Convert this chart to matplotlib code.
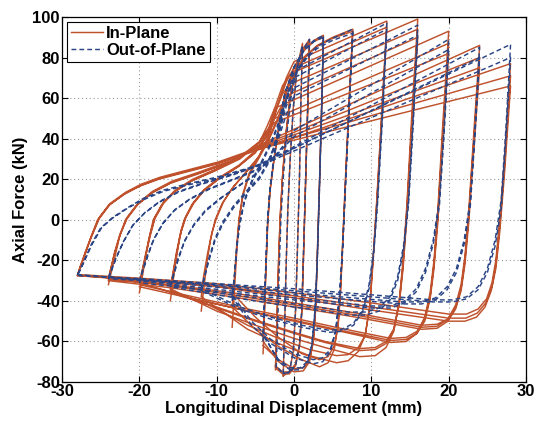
import numpy as np
import matplotlib
matplotlib.use("Agg")
import matplotlib.pyplot as plt

plt.rcParams['font.family'] = ['Liberation Sans', 'DejaVu Sans']
plt.rcParams['axes.unicode_minus'] = False

# In-plane test: (displacement mm, axial force kN), cycles at each amplitude
ip_28 = [(-28.0, -27.5), (-27.6, -23), (-27.0, -17), (-26.3, -9), (-25.4, 0), (-24.0, 7), (-22.0, 12.5),
         (-20.0, 16.5), (-17.5, 20), (-14.0, 23.5), (-10.0, 27.5), (-5.0, 34), (28.0, 77),
         (27.2, 30), (26.6, 0), (26.1, -20), (25.6, -31), (24.9, -39), (23.8, -44), (22.3, -46.5),
         (20.0, -46.5), (10.0, -41), (0.0, -36), (-10.0, -31.5), (-20.0, -28.8), (-28.0, -27.0),
         (-27.6, -22.5), (-27.0, -16), (-26.2, -8), (-25.2, 1), (-23.8, 8), (-21.8, 13.5), (-19.8, 17.5),
         (-17.3, 21), (-13.8, 24.5), (-9.8, 28.5), (-5.0, 35), (28.0, 71),
         (27.2, 26), (26.6, -3), (26.1, -22), (25.6, -33), (24.8, -41), (23.7, -46), (22.2, -48.5),
         (20.0, -48.5), (10.0, -43), (0.0, -37.5), (-10.0, -32.5), (-20.0, -29.5), (-28.0, -27.5),
         (-27.6, -23), (-27.0, -16.5), (-26.2, -8.5), (-25.2, 0.5), (-23.8, 7.5), (-21.8, 13), (-19.8, 17),
         (-17.3, 20.5), (-13.8, 24), (-9.8, 28), (-5.0, 34.5), (28.0, 66),
         (27.2, 22), (26.6, -6), (26.1, -24), (25.5, -35), (24.7, -43), (23.6, -48), (22.1, -50),
         (20.0, -50), (10.0, -44.5), (0.0, -38.5), (-10.0, -33), (-20.0, -30), (-28.0, -27.5)]

ip_24 = [(-24.0, -32), (-23.7, -27), (-23.2, -19), (-22.6, -9), (-21.8, 0), (-20.4, 7), (-18.5, 13), (-16.0, 18),
         (-12.5, 22.5), (-8.5, 28), (-5.0, 36), (24.0, 86),
         (23.2, 40), (22.6, 5), (22.1, -18), (21.6, -32), (20.9, -42), (19.9, -49), (18.5, -52.5), (16.5, -53),
         (8.0, -47), (0.0, -42), (-8.0, -37), (-16.0, -32.5), (-24.0, -29),
         (-23.7, -24), (-23.2, -16), (-22.5, -7), (-21.6, 1), (-20.2, 8), (-18.3, 14), (-15.8, 19), (-12.3, 23.5),
         (-8.3, 29), (-5.0, 35.5), (24.0, 80),
         (23.2, 36), (22.6, 2), (22.1, -20), (21.6, -34), (20.9, -43), (19.9, -49), (18.5, -51.5), (16.5, -52),
         (8.0, -46), (0.0, -41), (-8.0, -36), (-16.0, -32), (-24.0, -29.5),
         (-23.7, -24.5), (-23.2, -16.5), (-22.5, -7.5), (-21.6, 0.5), (-20.2, 7.5), (-18.3, 13.5), (-15.8, 18.5),
         (-12.3, 23), (-8.3, 28.5), (-5.0, 35), (24.0, 75),
         (23.2, 32), (22.6, -1), (22.1, -22), (21.6, -35), (20.9, -44), (19.9, -50), (18.5, -53.5), (16.5, -54),
         (8.0, -48), (0.0, -43), (-8.0, -38), (-16.0, -33.5), (-24.0, -30)]

ip_20 = [(-20.0, -36), (-19.7, -30), (-19.3, -21), (-18.8, -10), (-18.2, 0), (-17.1, 7.5), (-15.6, 13.5),
         (-13.3, 19), (-10.3, 24), (-7.0, 30), (-4.5, 38), (-3.5, 46), (-2.5, 55), (20.0, 93),
         (19.2, 45), (18.6, 5), (18.1, -20), (17.6, -36), (16.9, -48), (15.9, -56), (14.5, -60), (12.5, -60.5),
         (6.0, -55), (0.0, -50), (-6.0, -45), (-13.0, -39), (-20.0, -31),
         (-19.7, -26), (-19.2, -17), (-18.6, -7), (-18.0, 1), (-16.9, 8.5), (-15.4, 14.5), (-13.1, 20),
         (-10.1, 25), (-7.0, 31), (-4.5, 38.5), (-3.5, 44), (-2.5, 50), (20.0, 87),
         (19.2, 40), (18.6, 2), (18.1, -22), (17.6, -38), (16.9, -49), (15.9, -55), (14.5, -58), (12.5, -58.5),
         (6.0, -53.5), (0.0, -48.5), (-6.0, -44), (-13.0, -38), (-20.0, -32),
         (-19.7, -27), (-19.2, -18), (-18.6, -8), (-18.0, 0.5), (-16.9, 8), (-15.4, 14), (-13.1, 19.5),
         (-10.1, 24.5), (-7.0, 30.5), (-4.5, 38), (-3.5, 43), (-2.5, 48), (20.0, 82),
         (19.2, 36), (18.6, -1), (18.1, -24), (17.6, -39), (16.9, -50), (15.9, -56), (14.5, -59), (12.5, -59.5),
         (6.0, -54.5), (0.0, -49.5), (-6.0, -45), (-13.0, -39), (-20.0, -33)]

ip_16 = [(-16.0, -40), (-15.7, -32), (-15.3, -21), (-14.8, -9), (-14.2, 0), (-13.2, 7.5), (-11.8, 14),
         (-9.8, 20), (-7.3, 26), (-5.0, 33), (-3.5, 42), (-2.5, 55), (-1.5, 66), (-0.5, 72), (16.0, 99),
         (15.2, 50), (14.6, 8), (14.1, -20), (13.6, -40), (12.9, -55), (11.9, -63), (10.5, -67), (8.5, -67.5),
         (4.0, -63), (0.0, -58.5), (-5.0, -52), (-10.0, -45), (-16.0, -34),
         (-15.7, -27), (-15.2, -16), (-14.6, -5), (-14.0, 1.5), (-13.0, 8.5), (-11.6, 15), (-9.6, 21),
         (-7.1, 27), (-5.0, 34), (-3.5, 42), (-2.5, 53), (-1.5, 62), (-0.5, 67), (16.0, 94),
         (15.2, 45), (14.6, 5), (14.1, -22), (13.6, -41), (12.9, -54), (11.9, -61), (10.5, -64), (8.5, -64.5),
         (4.0, -60.5), (0.0, -56), (-5.0, -50), (-10.0, -43.5), (-16.0, -35),
         (-15.7, -28), (-15.2, -17), (-14.6, -6), (-14.0, 1), (-13.0, 8), (-11.6, 14.5), (-9.6, 20.5),
         (-7.1, 26.5), (-5.0, 33.5), (-3.5, 41), (-2.5, 50), (-1.5, 57), (-0.5, 62), (16.0, 90),
         (15.2, 42), (14.6, 2), (14.1, -24), (13.6, -42), (12.9, -54), (11.9, -60), (10.5, -63), (8.5, -63.5),
         (4.0, -60), (0.0, -55.5), (-5.0, -49.5), (-10.0, -43), (-16.0, -36)]

ip_12 = [(-12.0, -45), (-11.7, -35), (-11.3, -22), (-10.8, -10), (-10.2, 0), (-9.3, 8), (-8.0, 15.5),
         (-6.3, 23), (-4.5, 31), (-3.2, 42), (-2.2, 56), (-1.0, 70), (0.0, 78), (12.0, 98),
         (11.3, 50), (10.7, 10), (10.2, -20), (9.8, -42), (9.2, -57), (8.3, -65), (7.0, -69.5), (5.5, -70.5),
         (2.0, -67), (-2.0, -61), (-6.0, -54), (-12.0, -38),
         (-11.7, -28), (-11.2, -17), (-10.6, -6), (-10.0, 1), (-9.1, 9), (-7.8, 16.5), (-6.1, 24),
         (-4.5, 31.5), (-3.2, 42), (-2.2, 55), (-1.0, 68), (0.0, 75), (12.0, 95),
         (11.3, 48), (10.7, 8), (10.2, -22), (9.8, -43), (9.2, -57), (8.3, -63), (7.0, -66.5), (5.5, -67),
         (2.0, -64), (-2.0, -58.5), (-6.0, -52), (-12.0, -40)]

ip_8 = [(-8.0, -53), (-7.7, -35), (-7.4, -15), (-7.1, 0), (-6.6, 12), (-5.8, 22), (-4.6, 30), (-3.3, 39),
        (-2.0, 50), (-0.7, 66), (0.3, 75), (1.5, 81), (3.0, 86), (5.0, 90), (7.6, 94),
        (7.2, 65), (6.7, 25), (6.3, -10), (6.0, -35), (5.7, -52), (5.2, -64), (4.4, -70.5), (3.3, -72.5),
        (1.0, -69), (-2.0, -62.5), (-5.0, -54), (-8.0, -43),
        (-7.7, -28), (-7.4, -12), (-7.1, 1), (-6.6, 13), (-5.8, 23), (-4.6, 31), (-3.3, 40), (-2.0, 51),
        (-0.7, 66), (0.3, 74), (1.5, 80.5), (3.0, 85.5), (5.0, 89.5), (7.6, 93),
        (7.2, 63), (6.7, 22), (6.3, -12), (6.0, -37), (5.7, -52), (5.2, -62), (4.4, -67.5), (3.3, -69),
        (1.0, -66), (-2.0, -58), (-5.0, -48), (-8.0, -36)]

ip_4 = [(-4.0, -66), (-3.8, -45), (-3.6, -22), (-3.4, -2), (-3.1, 14), (-2.6, 29), (-2.0, 44), (-1.2, 61),
        (0.0, 75), (1.3, 84), (2.6, 88.5), (3.8, 91),
        (3.6, 60), (3.3, 20), (3.0, -18), (2.8, -42), (2.5, -60), (2.0, -70), (1.2, -74.5), (0.0, -75),
        (-2.0, -70), (-4.0, -60),
        (-3.8, -40), (-3.6, -19), (-3.4, 0), (-3.1, 15), (-2.6, 30), (-2.0, 45), (-1.2, 62), (0.0, 75),
        (1.3, 83.5), (2.6, 88), (3.8, 90),
        (3.6, 58), (3.3, 18), (3.0, -20), (2.8, -44), (2.5, -60), (2.0, -69), (1.2, -73), (0.0, -73.5),
        (-2.0, -69), (-4.0, -62)]

ip_2 = [(-2.4, -74), (-2.2, -50), (-2.0, -22), (-1.8, 0), (-1.5, 20), (-1.1, 40), (-0.5, 60), (0.3, 75),
        (1.1, 84), (2.0, 89),
        (1.8, 60), (1.5, 20), (1.2, -20), (1.0, -45), (0.7, -62), (0.2, -72), (-0.6, -76), (-1.5, -76),
        (-2.4, -73),
        (-2.2, -48), (-2.0, -20), (-1.8, 1), (-1.5, 21), (-1.1, 41), (-0.5, 61), (0.3, 75), (1.1, 83.5),
        (2.0, 88),
        (1.8, 58), (1.5, 18), (1.2, -22), (1.0, -46), (0.7, -62), (0.2, -71), (-0.6, -75), (-1.5, -75),
        (-2.4, -72)]

ip_1 = [(-1.4, -77), (-1.2, -50), (-1.0, -20), (-0.8, 5), (-0.5, 30), (-0.1, 55), (0.4, 75), (1.1, 87),
        (0.9, 60), (0.7, 20), (0.4, -20), (0.2, -45), (-0.1, -65), (-0.6, -75), (-1.4, -77)]

# Out-of-plane test
op_28 = [(-28.0, -27), (-27.6, -24), (-27.0, -19), (-26.2, -12), (-25.0, -4), (-23.5, 1), (-21.5, 6),
         (-19.5, 10.5), (-17.0, 14.5), (-14.0, 17.5), (-10.0, 21), (-5.0, 26.5), (-3.0, 30), (28.0, 86.5),
         (27.4, 45), (26.8, 10), (26.0, -10), (25.0, -24), (23.8, -33), (22.3, -38), (20.5, -39.5),
         (18.0, -39.5), (10.0, -37), (0.0, -34), (-10.0, -31.5), (-20.0, -29), (-28.0, -27.5),
         (-27.6, -24.5), (-27.0, -19.5), (-26.1, -12), (-24.9, -4), (-23.4, 1), (-21.4, 6), (-19.4, 10),
         (-16.9, 14), (-13.9, 17), (-9.9, 20.5), (-5.0, 26), (-3.0, 29), (28.0, 80),
         (27.4, 40), (26.8, 6), (26.0, -13), (25.0, -26), (23.8, -34.5), (22.3, -39), (20.5, -40.5),
         (18.0, -40.5), (10.0, -38), (0.0, -35), (-10.0, -32), (-20.0, -29.5), (-28.0, -27)]

op_24 = [(-24.0, -29), (-23.6, -25), (-23.0, -19), (-22.1, -11), (-20.9, -3), (-19.4, 3), (-17.5, 8.5),
         (-15.0, 13.5), (-12.0, 17.5), (-8.0, 22), (-4.0, 27.5), (-2.0, 32), (24.0, 85),
         (23.4, 45), (22.8, 10), (22.0, -10), (21.0, -24), (19.8, -33), (18.3, -38.5), (16.5, -40.5),
         (14.0, -40.5), (6.0, -38), (0.0, -36), (-8.0, -33), (-16.0, -30.5), (-24.0, -28.5),
         (-23.6, -24.5), (-23.0, -18.5), (-22.0, -10.5), (-20.8, -2.5), (-19.3, 3.5), (-17.4, 9),
         (-14.9, 14), (-11.9, 18), (-7.9, 22.5), (-4.0, 28), (-2.0, 31.5), (24.0, 80),
         (23.4, 42), (22.8, 7), (22.0, -12), (21.0, -26), (19.8, -34.5), (18.3, -39.5), (16.5, -41.5),
         (14.0, -41.5), (6.0, -39), (0.0, -37), (-8.0, -34), (-16.0, -31), (-24.0, -29)]

op_20 = [(-20.0, -31), (-19.6, -26), (-19.0, -19), (-18.2, -10), (-17.0, -2), (-15.5, 4.5), (-13.5, 10),
         (-11.0, 15), (-8.0, 19.5), (-5.0, 24), (-3.0, 29), (-1.5, 36), (0.0, 44), (20.0, 89),
         (19.4, 45), (18.8, 10), (18.0, -10), (17.0, -24), (15.8, -34), (14.3, -40), (12.5, -42.5),
         (10.0, -42.5), (4.0, -40), (0.0, -38.5), (-6.0, -36), (-13.0, -33), (-20.0, -30),
         (-19.6, -25), (-19.0, -18), (-18.1, -9.5), (-16.9, -1.5), (-15.4, 5), (-13.4, 10.5), (-10.9, 15.5),
         (-7.9, 20), (-5.0, 24.5), (-3.0, 29), (-1.5, 35), (0.0, 41), (20.0, 84),
         (19.4, 42), (18.8, 7), (18.0, -12), (17.0, -26), (15.8, -35.5), (14.3, -41), (12.5, -43.5),
         (10.0, -43.5), (4.0, -41), (0.0, -39.5), (-6.0, -37), (-13.0, -34), (-20.0, -31)]

op_16 = [(-16.0, -33), (-15.6, -28), (-15.0, -20), (-14.2, -11), (-13.0, -3), (-11.5, 4), (-9.5, 10.5),
         (-7.0, 17), (-5.0, 22), (-3.2, 30), (-2.0, 42), (-1.0, 56), (0.0, 65), (16.0, 96),
         (15.4, 50), (14.8, 10), (14.2, -12), (13.4, -28), (12.4, -38), (11.0, -43.5), (9.3, -45.5),
         (7.0, -45.5), (3.0, -43), (0.0, -41.5), (-5.0, -38.5), (-10.0, -36), (-16.0, -32),
         (-15.6, -27), (-15.0, -19), (-14.1, -10), (-12.9, -2), (-11.4, 5), (-9.4, 11), (-6.9, 17.5),
         (-5.0, 22.5), (-3.2, 30), (-2.0, 40), (-1.0, 52), (0.0, 61), (16.0, 91),
         (15.4, 46), (14.8, 7), (14.2, -14), (13.4, -30), (12.4, -39.5), (11.0, -45), (9.3, -47),
         (7.0, -47), (3.0, -44.5), (0.0, -43), (-5.0, -40), (-10.0, -37), (-16.0, -33)]

op_12 = [(-12.0, -35), (-11.6, -29), (-11.0, -20), (-10.2, -10), (-9.2, -2), (-7.8, 6), (-6.2, 13),
         (-4.5, 20), (-3.0, 30), (-2.0, 44), (-1.0, 60), (0.0, 73), (12.0, 97),
         (11.4, 50), (10.8, 10), (10.3, -15), (9.7, -32), (8.9, -44), (7.7, -51), (6.2, -54), (4.5, -54.5),
         (1.0, -52), (-3.0, -48), (-7.0, -43), (-12.0, -34),
         (-11.6, -28), (-11.0, -19), (-10.2, -9), (-9.2, -1), (-7.8, 7), (-6.2, 14), (-4.5, 21),
         (-3.0, 31), (-2.0, 44), (-1.0, 58), (0.0, 70), (12.0, 94),
         (11.4, 48), (10.8, 8), (10.3, -17), (9.7, -34), (8.9, -45), (7.7, -52), (6.2, -55), (4.5, -55.5),
         (1.0, -53), (-3.0, -49), (-7.0, -44), (-12.0, -35)]

op_8 = [(-8.0, -40), (-7.7, -28), (-7.4, -14), (-7.0, -2), (-6.4, 9), (-5.5, 18), (-4.3, 27), (-3.0, 37),
        (-1.8, 49), (-0.6, 64), (0.4, 74), (1.6, 80.5), (3.0, 85.5), (5.0, 89.5), (7.6, 94),
        (7.2, 62), (6.7, 22), (6.3, -12), (5.9, -36), (5.4, -54), (4.7, -65), (3.7, -70), (2.5, -71),
        (0.0, -68), (-3.0, -61), (-5.5, -52), (-8.0, -38),
        (-7.7, -27), (-7.4, -13), (-7.0, -1), (-6.4, 10), (-5.5, 19), (-4.3, 28), (-3.0, 38), (-1.8, 50),
        (-0.6, 64), (0.4, 73), (1.6, 79.5), (3.0, 84.5), (5.0, 88.5), (7.6, 92),
        (7.2, 60), (6.7, 20), (6.3, -14), (5.9, -38), (5.4, -55), (4.7, -64), (3.7, -68), (2.5, -69),
        (0.0, -66), (-3.0, -59), (-5.5, -50), (-8.0, -37)]

op_4 = [(-4.0, -60), (-3.8, -40), (-3.6, -19), (-3.4, 0), (-3.1, 15), (-2.6, 30), (-2.0, 45), (-1.2, 62),
        (0.0, 75.5), (1.3, 84), (2.6, 88.5), (3.8, 91),
        (3.6, 60), (3.3, 18), (3.0, -20), (2.7, -45), (2.3, -62), (1.7, -71), (0.8, -74), (-0.5, -74),
        (-2.0, -70), (-4.0, -56),
        (-3.8, -37), (-3.6, -17), (-3.4, 1), (-3.1, 16), (-2.6, 31), (-2.0, 46), (-1.2, 62), (0.0, 75),
        (1.3, 83.5), (2.6, 88), (3.8, 90),
        (3.6, 58), (3.3, 16), (3.0, -22), (2.7, -46), (2.3, -62), (1.7, -70), (0.8, -73), (-0.5, -73),
        (-2.0, -69), (-4.0, -57)]

op_2 = [(-2.3, -73), (-2.1, -50), (-1.9, -22), (-1.7, 0), (-1.4, 20), (-1.0, 40), (-0.4, 60), (0.4, 75),
        (1.2, 84), (2.0, 89),
        (1.8, 60), (1.5, 20), (1.2, -20), (1.0, -45), (0.7, -62), (0.2, -72), (-0.6, -75.5), (-1.5, -75.5),
        (-2.3, -72)]

op_1 = [(-1.4, -76), (-1.2, -50), (-1.0, -20), (-0.8, 5), (-0.5, 30), (-0.1, 55), (0.4, 75), (1.1, 86),
        (0.9, 60), (0.7, 20), (0.4, -20), (0.2, -45), (-0.1, -65), (-0.6, -75), (-1.4, -76)]

in_plane = [ip_28, ip_24, ip_20, ip_16, ip_12, ip_8, ip_4, ip_2, ip_1]
out_of_plane = [op_28, op_24, op_20, op_16, op_12, op_8, op_4, op_2, op_1]

red = '#bf522c'
blue = '#2a4586'

fig = plt.figure(figsize=(5.36, 4.23), dpi=100)
ax = fig.add_axes([0.1157, 0.0969, 0.8657, 0.8629])

for i, trace in enumerate(in_plane):
    d, f = np.array(trace).T
    ax.plot(d, f, color=red, lw=1.05, label='In-Plane' if i == 0 else None, zorder=2)
for i, trace in enumerate(out_of_plane):
    d, f = np.array(trace).T
    ax.plot(d, f, color=blue, lw=1.05, dashes=(3.3, 2.1),
            label='Out-of-Plane' if i == 0 else None, zorder=3)

ax.set_xlim(-30, 30)
ax.set_ylim(-80, 100)
ax.set_xticks(np.arange(-30, 31, 10))
ax.set_yticks(np.arange(-80, 101, 20))
ax.grid(True, color='#9a9a9a', linestyle=(0, (1, 2.5)), linewidth=0.8)
ax.tick_params(direction='in', top=True, right=True, length=4, width=0.8, pad=1.5,
               labelsize=12)
for lbl in ax.get_xticklabels() + ax.get_yticklabels():
    lbl.set_fontweight('bold')
for s in ax.spines.values():
    s.set_linewidth(0.9)

ax.set_xlabel('Longitudinal Displacement (mm)', fontsize=12, fontweight='bold', labelpad=1.5)
ax.set_ylabel('Axial Force (kN)', fontsize=12, fontweight='bold', labelpad=3)

leg = ax.legend(loc='upper left', handlelength=1.9, handletextpad=0.2,
                borderpad=0.25, labelspacing=0.1, borderaxespad=0.3, fancybox=False,
                framealpha=1, edgecolor='black', prop={'weight': 'bold', 'size': 12})
leg.get_frame().set_linewidth(0.8)

fig.savefig('out.png', dpi=100)
